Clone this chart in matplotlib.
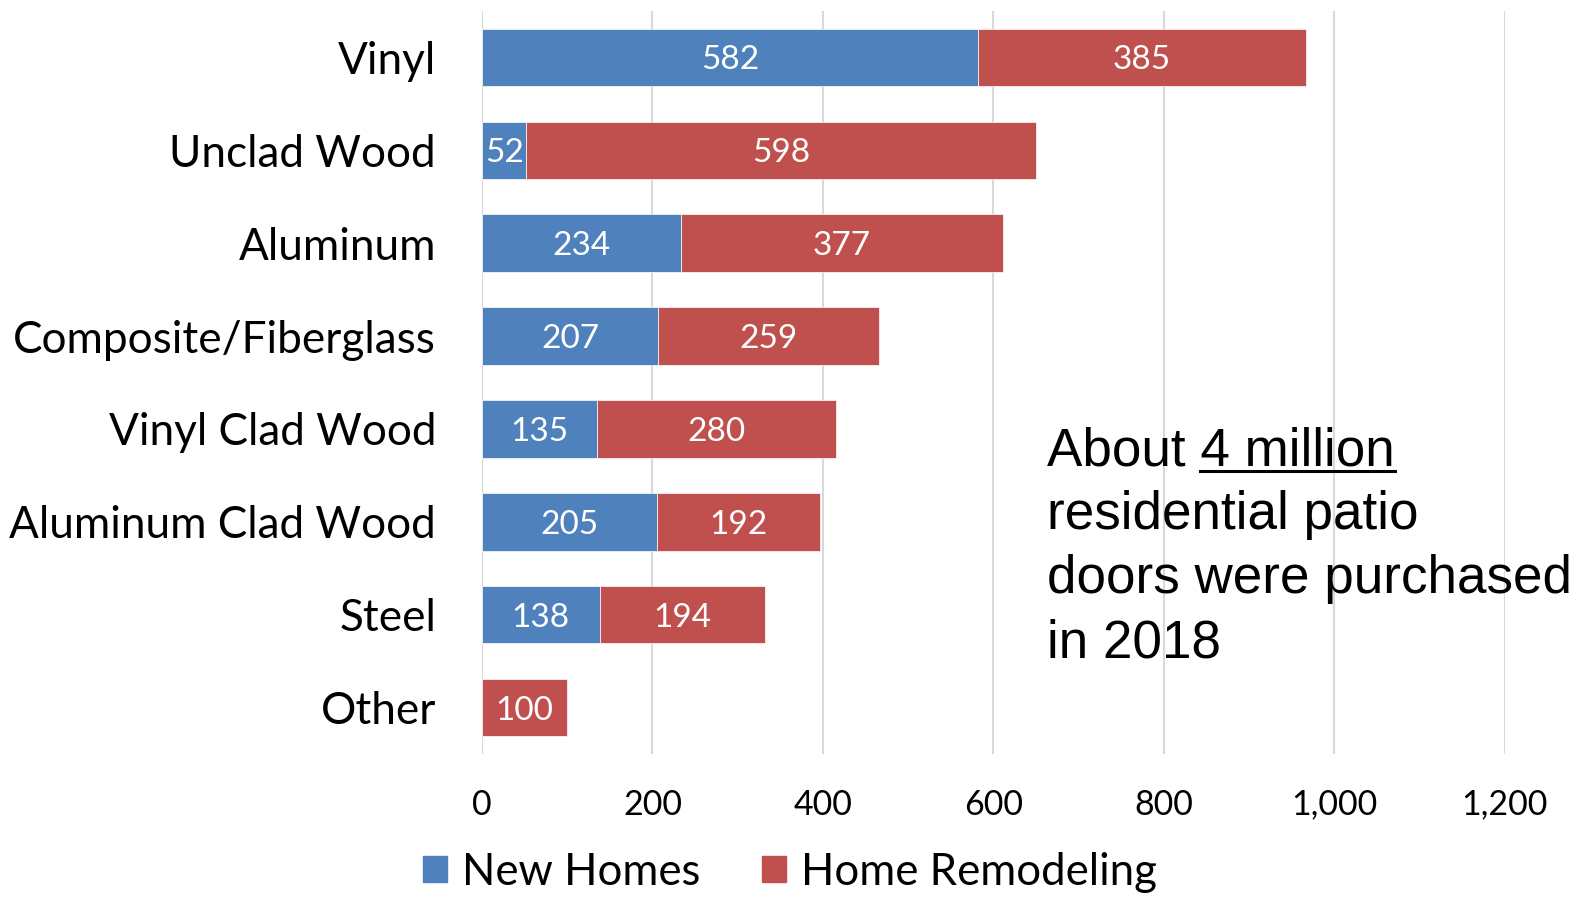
import numpy as np
import matplotlib
matplotlib.use('Agg')
import matplotlib.pyplot as plt
from matplotlib.lines import Line2D

# data (thousands of units)
categories = ['Vinyl', 'Unclad Wood', 'Aluminum', 'Composite/Fiberglass',
              'Vinyl Clad Wood', 'Aluminum Clad Wood', 'Steel', 'Other']
new_homes = [582, 52, 234, 207, 135, 205, 138, 0]
remodeling = [385, 598, 377, 259, 280, 192, 194, 100]
series_names = ['New Homes', 'Home Remodeling']
xticks = [0, 200, 400, 600, 800, 1000, 1200]

blue = '#4F81BD'
red = '#C0504D'
label_font = 'Lato'

fig = plt.figure(figsize=(15.89, 8.99), dpi=100)
ax = fig.add_axes([0.3033, 0.1613, 0.947 - 0.3033, 0.9877 - 0.1613])

y = np.arange(len(categories))
b1 = ax.barh(y, new_homes, height=0.62, color=blue, edgecolor='white', linewidth=0.5)
b2 = ax.barh(y, remodeling, left=new_homes, height=0.62, color=red, edgecolor='white', linewidth=0.5)

# value labels in the middle of each segment
for bars, vals in [(b1, new_homes), (b2, remodeling)]:
    for bar, v in zip(bars, vals):
        if v == 0:
            continue
        ax.text(bar.get_x() + bar.get_width() / 2, bar.get_y() + bar.get_height() / 2,
                str(v), ha='center', va='center_baseline', color='white', fontsize=24,
                family=label_font)

ax.set_xlim(0, 1200)
ax.set_ylim(len(categories) - 0.5, -0.5)
ax.set_xticks(xticks)
ax.set_xticklabels([f'{t:,}' for t in xticks], fontsize=24.5, family=label_font)
ax.set_yticks(y)
ax.set_yticklabels(categories, fontsize=31.8, family=label_font)
ax.tick_params(axis='x', length=0, pad=25)
ax.tick_params(axis='y', length=0, pad=33)
for s in ax.spines.values():
    s.set_visible(False)
ax.set_axisbelow(True)
ax.grid(axis='x', color='#D9D9D9', linewidth=1.5)

# legend
handles = [plt.Rectangle((0, 0), 1, 1, color=blue), plt.Rectangle((0, 0), 1, 1, color=red)]
fig.legend(handles, series_names, loc='center', bbox_to_anchor=(0.497, 0.03), ncol=2,
           frameon=False, prop={'family': label_font, 'size': 31.5},
           handlelength=0.55, handleheight=0.55, handletextpad=0.35, columnspacing=1.4)

# side note with underlined "4 million"
tx = 1047 / 1589
lines = ['About 4 million', 'residential patio', 'doors were purchased', 'in 2018']
base = 1 - 465 / 899
step = 64 / 899
for i, line in enumerate(lines):
    fig.text(tx, base - i * step, line, fontsize=38.2, family='Liberation Sans',
             va='baseline', ha='left')

fig.canvas.draw()
r = fig.canvas.get_renderer()
full = fig.texts[0].get_window_extent(r)
tmp = fig.text(0, 0, '4 million', fontsize=38.2, family='Liberation Sans')
w = tmp.get_window_extent(r).width
tmp.remove()
x1 = full.x1 / fig.bbox.width
x0 = (full.x1 - w) / fig.bbox.width
uy = base - 6 / 899
fig.add_artist(Line2D([x0, x1], [uy, uy], color='black', linewidth=2.2,
                      transform=fig.transFigure))

fig.savefig('out.png', dpi=100)
